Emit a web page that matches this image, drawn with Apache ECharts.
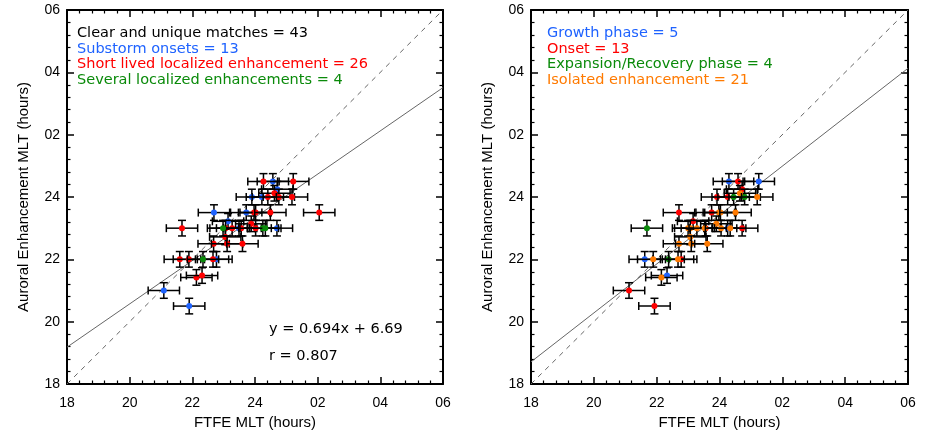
<!DOCTYPE html>
<html><head><meta charset="utf-8">
<script src="https://cdn.jsdelivr.net/npm/echarts@6/dist/echarts.min.js"></script>
<style>html,body{margin:0;padding:0;background:#fff}#c{width:925px;height:437px}</style>
</head><body><div id="c"></div>
<script>
// Axis ticks (hours, continuous 18..30 = 18h..06h)
const tickValues = [18, 20, 22, 24, 26, 28, 30];
const tickLabels = ['18', '20', '22', '24', '02', '04', '06'];
const ERR_X = 0.5, ERR_Y = 0.25;

// Left panel: classification by event type
const leftBlue = [[24.57,24.5],[24.71,24.25],[23.90,24.0],[24.22,24.0],[22.69,23.5],[23.72,23.5],[23.14,23.22],[23.49,23.0],[24.70,23.0],[22.77,22.0],[21.09,21.0],[21.90,20.5]];
const leftRed = [[24.27,24.5],[25.22,24.5],[24.62,24.12],[24.41,24.0],[24.76,24.0],[25.18,24.0],[23.97,23.5],[24.02,23.5],[24.49,23.5],[26.05,23.5],[23.88,23.14],[21.67,23.0],[23.06,23.0],[23.27,23.0],[23.56,23.0],[24.02,23.0],[23.05,22.72],[22.68,22.5],[23.11,22.5],[23.60,22.5],[21.60,22.0],[21.89,22.0],[22.66,22.0],[22.13,21.42],[22.31,21.48]];
const leftGreen = [[22.98,23.0],[24.25,23.0],[24.33,23.0],[22.34,22.0]];
// Right panel: classification by substorm phase
const rightBlue = [[24.30,24.5],[25.25,24.5],[24.26,23.0],[21.62,22.0],[22.33,21.48]];
const rightRed = [[24.59,24.5],[24.72,24.25],[23.92,24.0],[24.26,24.0],[22.71,23.5],[23.75,23.5],[23.16,23.22],[23.56,23.0],[24.72,23.0],[22.78,22.0],[21.12,21.0],[21.93,20.5]];
const rightGreen = [[24.45,24.0],[24.80,24.0],[21.69,23.0],[22.38,22.0]];
const rightOrange = [[24.65,24.12],[25.20,24.0],[23.98,23.5],[24.03,23.5],[24.51,23.5],[23.90,23.14],[23.00,23.0],[23.07,23.0],[23.28,23.0],[23.53,23.0],[24.05,23.0],[24.34,23.0],[23.07,22.72],[22.71,22.5],[23.10,22.5],[23.61,22.5],[21.89,22.0],[22.68,22.0],[22.15,21.42]];

// Fit lines
const leftFit = {slope: 0.694, intercept: 6.69};
const rightFit = {slope: 0.785, intercept: 4.58};
const diagonal = [[18,18],[30,30]];

const leftLegend = [['Clear and unique matches = 43','#000000'],['Substorm onsets = 13','#1f63ff'],['Short lived localized enhancement = 26','#ff0000'],['Several localized enhancements = 4','#0a8a0a']];
const rightLegend = [['Growth phase = 5','#1f63ff'],['Onset = 13','#ff0000'],['Expansion/Recovery phase = 4','#0a8a0a'],['Isolated enhancement = 21','#ff7a00']];

const COL = {blue:'#1f63ff', red:'#ff0000', green:'#0a8a0a', orange:'#ff7a00'};
const FONT = 'Liberation Sans, Arial, sans-serif';
const TFONT = '14.5px "DejaVu Sans", sans-serif';

function fmt(v){ const i = tickValues.indexOf(v); return i >= 0 ? tickLabels[i] : ''; }

function xAxes(g){
  const base = {type:'value', min:18, max:30, interval:2, gridIndex:g,
    axisLine:{show:true, onZero:false, lineStyle:{color:'#000', width:2}},
    axisTick:{show:true, inside:true, length:7, lineStyle:{color:'#000', width:1.5}},
    minorTick:{show:true, splitNumber:5, length:3.5, lineStyle:{color:'#000', width:1.2}},
    splitLine:{show:false}, minorSplitLine:{show:false}};
  return [
    Object.assign({}, base, {position:'bottom',
      axisLabel:{formatter:fmt, color:'#000', fontFamily:FONT, fontSize:14, margin:12, showMinLabel:true, showMaxLabel:true, hideOverlap:false},
      name:'FTFE MLT (hours)', nameLocation:'middle', nameGap:30,
      nameTextStyle:{color:'#000', fontFamily:FONT, fontSize:15}}),
    Object.assign({}, base, {position:'top', axisLabel:{show:false}})
  ];
}
function yAxes(g){
  const base = {type:'value', min:18, max:30, interval:2, gridIndex:g,
    axisLine:{show:true, onZero:false, lineStyle:{color:'#000', width:2}},
    axisTick:{show:true, inside:true, length:7, lineStyle:{color:'#000', width:1.5}},
    minorTick:{show:true, splitNumber:5, length:3.5, lineStyle:{color:'#000', width:1.2}},
    splitLine:{show:false}, minorSplitLine:{show:false}};
  return [
    Object.assign({}, base, {position:'left',
      axisLabel:{formatter:fmt, color:'#000', fontFamily:FONT, fontSize:14, margin:7, showMinLabel:true, showMaxLabel:true, hideOverlap:false},
      name:'Auroral Enhancement MLT (hours)', nameLocation:'middle', nameGap:36, nameRotate:90,
      nameTextStyle:{color:'#000', fontFamily:FONT, fontSize:15}}),
    Object.assign({}, base, {position:'right', axisLabel:{show:false}})
  ];
}

function errSeries(data, color, xi, yi){
  return {type:'custom', xAxisIndex:xi, yAxisIndex:yi, data:data, encode:{x:0, y:1}, silent:true, z:5,
    renderItem:function(params, api){
      const x = api.value(0), y = api.value(1);
      const c = api.coord([x, y]);
      const l = api.coord([x-ERR_X, y]), r = api.coord([x+ERR_X, y]);
      const t = api.coord([x, y+ERR_Y]), b = api.coord([x, y-ERR_Y]);
      const cap = 4;
      const st = {stroke:'#000', lineWidth:1.5};
      return {type:'group', children:[
        {type:'line', shape:{x1:l[0], y1:l[1], x2:r[0], y2:r[1]}, style:st},
        {type:'line', shape:{x1:l[0], y1:l[1]-cap, x2:l[0], y2:l[1]+cap}, style:st},
        {type:'line', shape:{x1:r[0], y1:r[1]-cap, x2:r[0], y2:r[1]+cap}, style:st},
        {type:'line', shape:{x1:t[0], y1:t[1], x2:b[0], y2:b[1]}, style:st},
        {type:'line', shape:{x1:t[0]-cap, y1:t[1], x2:t[0]+cap, y2:t[1]}, style:st},
        {type:'line', shape:{x1:b[0]-cap, y1:b[1], x2:b[0]+cap, y2:b[1]}, style:st},
        {type:'circle', shape:{cx:c[0], cy:c[1], r:3}, style:{fill:color}}
      ]};
    }};
}
function lineSeries(data, xi, yi, dashed){
  return {type:'line', xAxisIndex:xi, yAxisIndex:yi, data:data, showSymbol:false, silent:true, z:2,
    lineStyle:{color:'#666', width:1, type: dashed ? [5,5] : 'solid'}};
}
function fitData(f){ return [[18, f.slope*18+f.intercept],[30, f.slope*30+f.intercept]]; }

function legendText(items, x0, y0, dy){
  return items.map((it, i) => ({type:'text', left:x0, top:y0 + i*dy, silent:true,
    style:{text:it[0], fill:it[1], font:TFONT}}));
}

const chart = echarts.init(document.getElementById('c'), null, {renderer:'canvas'});
chart.setOption({
  animation:false,
  backgroundColor:'#fff',
  grid:[
    {left:67, top:10, width:376, height:374, containLabel:false, outerBoundsMode:'none'},
    {left:531, top:10, width:377, height:374, containLabel:false, outerBoundsMode:'none'}
  ],
  xAxis:[...xAxes(0), ...xAxes(1)],
  yAxis:[...yAxes(0), ...yAxes(1)],
  series:[
    lineSeries(diagonal, 0, 0, true),
    lineSeries(fitData(leftFit), 0, 0, false),
    errSeries(leftBlue, COL.blue, 0, 0),
    errSeries(leftRed, COL.red, 0, 0),
    errSeries(leftGreen, COL.green, 0, 0),
    lineSeries(diagonal, 2, 2, true),
    lineSeries(fitData(rightFit), 2, 2, false),
    errSeries(rightBlue, COL.blue, 2, 2),
    errSeries(rightRed, COL.red, 2, 2),
    errSeries(rightGreen, COL.green, 2, 2),
    errSeries(rightOrange, COL.orange, 2, 2)
  ],
  graphic:[
    ...legendText(leftLegend, 77, 26, 15.5),
    ...legendText(rightLegend, 547, 26, 15.5),
    {type:'text', left:269, top:322, silent:true, style:{text:'y = 0.694x + 6.69', fill:'#000', font:TFONT}},
    {type:'text', left:269, top:349, silent:true, style:{text:'r = 0.807', fill:'#000', font:TFONT}}
  ]
});
</script></body></html>
